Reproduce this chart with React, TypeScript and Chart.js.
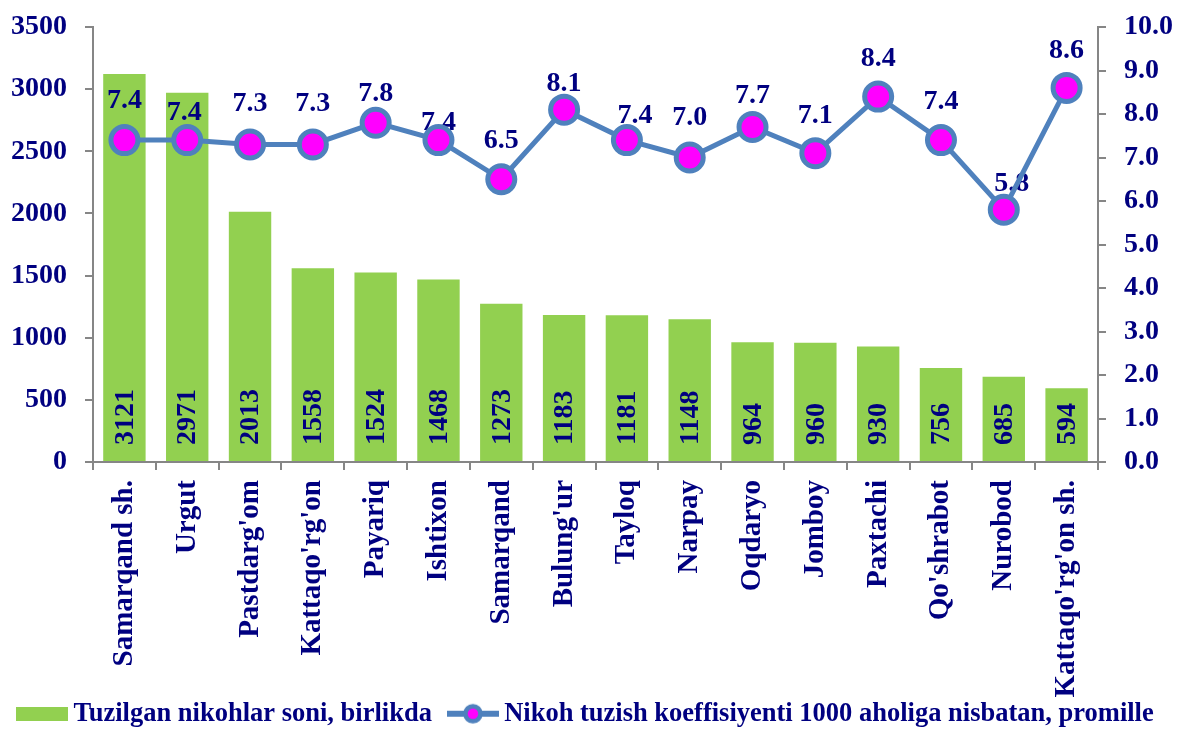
import React, { useEffect, useRef } from "react";
import { Chart, registerables } from "chart.js";

Chart.register(...registerables);

// ---- data ----
const categories = [
  "Samarqand sh.",
  "Urgut",
  "Pastdarg'om",
  "Kattaqo'rg'on",
  "Payariq",
  "Ishtixon",
  "Samarqand",
  "Bulung'ur",
  "Tayloq",
  "Narpay",
  "Oqdaryo",
  "Jomboy",
  "Paxtachi",
  "Qo'shrabot",
  "Nurobod",
  "Kattaqo'rg'on sh.",
];
const marriages = [3121, 2971, 2013, 1558, 1524, 1468, 1273, 1183, 1181, 1148, 964, 960, 930, 756, 685, 594];
const coefficient = [7.4, 7.4, 7.3, 7.3, 7.8, 7.4, 6.5, 8.1, 7.4, 7.0, 7.7, 7.1, 8.4, 7.4, 5.8, 8.6];
const seriesNames = [
  "Tuzilgan nikohlar soni, birlikda",
  "Nikoh tuzish koeffisiyenti 1000 aholiga nisbatan, promille",
];
const leftAxis = { min: 0, max: 3500, step: 500 };
const rightAxis = { min: 0, max: 10, step: 1 };

// label nudges (style): how far each line label sits above / beside its point
const lineLabelRise = [32, 20, 33, 33, 22, 10, 31, 19, 17, 33, 24, 30, 31, 31, 19, 30];
const lineLabelShiftX = [0, -3, 0, 0, 0, 0, 0, 0, 8, 0, 0, 0, 0, 0, 8, 0];

// ---- style ----
const NAVY = "#000080";
const AXIS_GRAY = "#868686";
const BAR_GREEN = "#92D050";
const LINE_BLUE = "#4F81BD";
const MAGENTA = "#FF00FF";
const FONT = "'Liberation Serif', 'Times New Roman', serif";

function makeBoxIcon() {
  const c = document.createElement("canvas");
  c.width = 52;
  c.height = 14;
  const g = c.getContext("2d")!;
  g.fillStyle = BAR_GREEN;
  g.fillRect(0, 0, 52, 14);
  return c;
}

function makeLineIcon() {
  const c = document.createElement("canvas");
  c.width = 52;
  c.height = 24;
  const g = c.getContext("2d")!;
  g.strokeStyle = LINE_BLUE;
  g.lineWidth = 6;
  g.beginPath();
  g.moveTo(0, 12);
  g.lineTo(52, 12);
  g.stroke();
  g.beginPath();
  g.arc(26, 12, 7.5, 0, Math.PI * 2);
  g.fillStyle = MAGENTA;
  g.fill();
  g.lineWidth = 4.5;
  g.stroke();
  return c;
}

const labelPlugin = {
  id: "valueLabels",
  beforeDatasetDraw(chart: any, args: any) {
    if (args.index !== 1) return;
    const ctx = chart.ctx;
    const barMeta = chart.getDatasetMeta(0);
    const lineMeta = chart.getDatasetMeta(1);
    ctx.save();
    ctx.fillStyle = NAVY;
    ctx.font = `bold 28px ${FONT}`;
    barMeta.data.forEach((el: any, i: number) => {
      const p = el.getProps(["x", "base"], true);
      ctx.save();
      ctx.translate(p.x, p.base - 16);
      ctx.rotate(-Math.PI / 2);
      ctx.textAlign = "left";
      ctx.textBaseline = "middle";
      ctx.fillText(String(marriages[i]), 0, 1);
      ctx.restore();
    });
    lineMeta.data.forEach((el: any, i: number) => {
      const p = el.getProps(["x", "y"], true);
      ctx.textAlign = "center";
      ctx.textBaseline = "alphabetic";
      ctx.fillText(coefficient[i].toFixed(1), p.x + lineLabelShiftX[i], p.y - lineLabelRise[i]);
    });
    ctx.restore();
  },
};

export default function App() {
  const ref = useRef<HTMLCanvasElement | null>(null);

  useEffect(() => {
    if (!ref.current) return;
    const boxIcon = makeBoxIcon();
    const lineIcon = makeLineIcon();
    const tickFont = { family: FONT, size: 28, weight: "bold" as const };

    const chart = new Chart(ref.current, {
      type: "bar",
      data: {
        labels: categories,
        datasets: [
          {
            type: "bar",
            label: seriesNames[0],
            data: marriages,
            backgroundColor: BAR_GREEN,
            borderWidth: 0,
            barPercentage: 0.675,
            categoryPercentage: 1,
            yAxisID: "y",
            order: 2,
          },
          {
            type: "line",
            label: seriesNames[1],
            data: coefficient,
            borderColor: LINE_BLUE,
            borderWidth: 5,
            pointRadius: 13.5,
            pointBorderWidth: 5,
            pointBackgroundColor: MAGENTA,
            pointBorderColor: LINE_BLUE,
            tension: 0,
            yAxisID: "y1",
            order: 1,
          } as any,
        ],
      },
      options: {
        animation: false,
        responsive: true,
        maintainAspectRatio: false,
        layout: { padding: { top: 27, left: 0, right: 0, bottom: 0 } },
        plugins: {
          tooltip: { enabled: false },
          legend: {
            position: "bottom",
            labels: {
              usePointStyle: true,
              pointStyleWidth: 36,
              padding: 23,
              color: NAVY,
              font: { family: FONT, size: 26.5, weight: "bold" },
              generateLabels: () => [
                {
                  text: seriesNames[0],
                  pointStyle: boxIcon as any,
                  fillStyle: BAR_GREEN,
                  strokeStyle: BAR_GREEN,
                  lineWidth: 0,
                  hidden: false,
                  datasetIndex: 0,
                  fontColor: NAVY,
                },
                {
                  text: seriesNames[1],
                  pointStyle: lineIcon as any,
                  fillStyle: MAGENTA,
                  strokeStyle: LINE_BLUE,
                  lineWidth: 0,
                  hidden: false,
                  datasetIndex: 1,
                  fontColor: NAVY,
                },
              ],
            },
          },
        },
        scales: {
          x: {
            offset: true,
            grid: {
              offset: true,
              drawOnChartArea: false,
              drawTicks: true,
              tickLength: 8,
              color: AXIS_GRAY,
              lineWidth: 2,
            },
            border: { display: true, color: AXIS_GRAY, width: 2 },
            ticks: {
              color: NAVY,
              font: { family: FONT, size: 29, weight: "bold" },
              minRotation: 90,
              maxRotation: 90,
              autoSkip: false,
              padding: 10,
            },
            afterFit: (s: any) => {
              s.height = 215.5;
              // let long rotated labels run past the axis box instead of being clipped
              s._computeLabelArea = () => undefined;
            },
          },
          y: {
            position: "left",
            min: leftAxis.min,
            max: leftAxis.max,
            grid: {
              drawOnChartArea: false,
              drawTicks: true,
              tickLength: 8,
              color: AXIS_GRAY,
              lineWidth: 2,
            },
            border: { display: true, color: AXIS_GRAY, width: 2 },
            ticks: {
              stepSize: leftAxis.step,
              color: NAVY,
              font: tickFont,
              padding: 18,
              callback: (v: any) => String(v),
            },
            afterFit: (s: any) => {
              s.width = 93;
              s.paddingTop = 0;
              s.paddingBottom = 0;
            },
          },
          y1: {
            position: "right",
            min: rightAxis.min,
            max: rightAxis.max,
            grid: {
              drawOnChartArea: false,
              drawTicks: true,
              tickLength: 8,
              color: AXIS_GRAY,
              lineWidth: 2,
            },
            border: { display: true, color: AXIS_GRAY, width: 2 },
            ticks: {
              stepSize: rightAxis.step,
              color: NAVY,
              font: tickFont,
              padding: 18,
              callback: (v: any) => Number(v).toFixed(1),
            },
            afterFit: (s: any) => {
              s.width = 80;
              s.paddingTop = 0;
              s.paddingBottom = 0;
            },
          },
        },
      },
      plugins: [labelPlugin],
    });

    return () => chart.destroy();
  }, []);

  return (
    <div
      style={{
        position: "fixed",
        left: 0,
        top: 0,
        width: 1178,
        height: 729,
        overflow: "hidden",
        background: "#ffffff",
      }}
    >
      <div style={{ position: "relative", width: 1178, height: 737 }}>
        <canvas ref={ref} />
      </div>
    </div>
  );
}
